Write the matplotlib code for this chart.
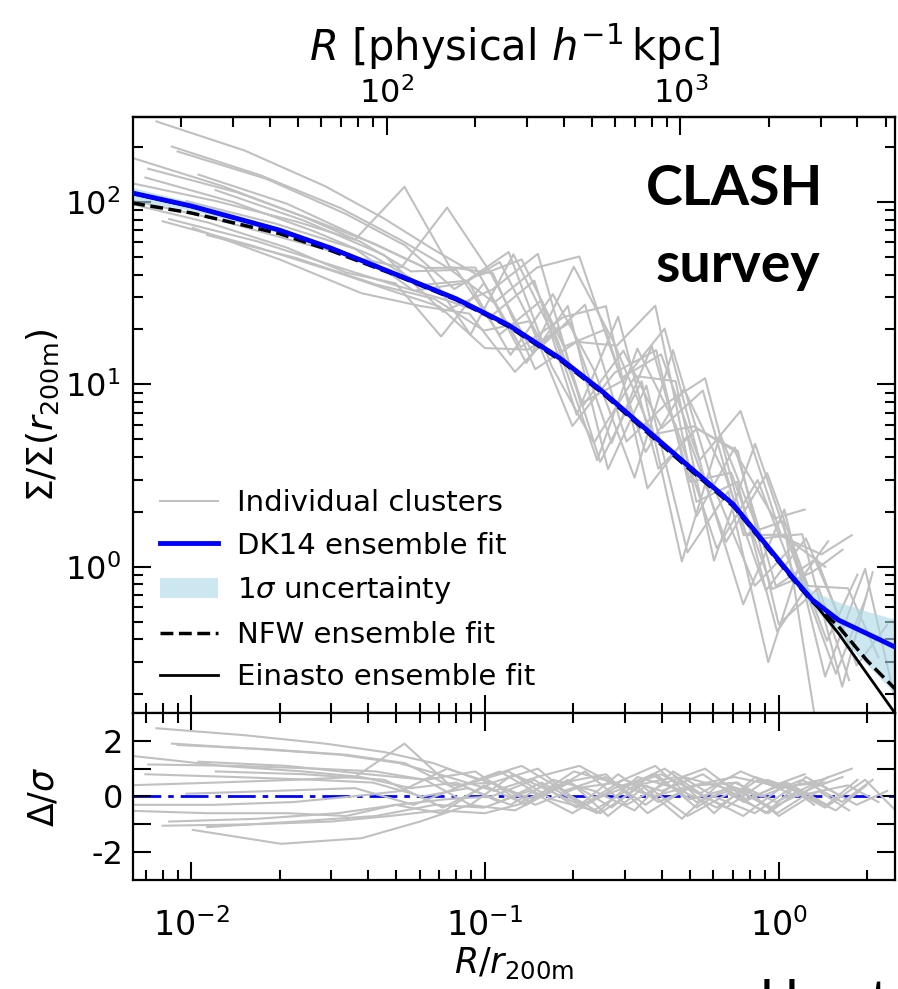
import matplotlib.pyplot as plt
import numpy as np

# ensemble fits (R/r200m, Sigma/Sigma(r200m))
x_fit = [0.0063, 0.01, 0.02, 0.03, 0.05, 0.08, 0.12, 0.18, 0.25, 0.35,
         0.5, 0.7, 0.9, 1.1, 1.3, 1.6, 2.0, 2.5]
dk14 = [112, 95, 70, 55.7, 40, 29.4, 21.2, 13.9, 9.2, 5.75,
        3.5, 2.2, 1.34, 0.90, 0.66, 0.51, 0.43, 0.362]
dk14_lo = [101, 90, 67.5, 54, 39, 28.6, 20.6, 13.5, 8.95, 5.6,
           3.4, 2.12, 1.29, 0.86, 0.61, 0.42, 0.29, 0.20]
dk14_hi = [120, 100, 72.5, 57.5, 41, 30.2, 21.8, 14.3, 9.45, 5.9,
           3.6, 2.28, 1.40, 0.95, 0.74, 0.64, 0.57, 0.515]
nfw = [98.6, 87, 67, 54, 39.5, 29.0, 20.8, 13.6, 9.0, 5.6,
       3.4, 2.15, 1.31, 0.88, 0.645, 0.47, 0.306, 0.213]
einasto = [111, 94, 70, 55.5, 40, 29.3, 21.1, 13.85, 9.15, 5.7,
           3.47, 2.18, 1.33, 0.89, 0.655, 0.43, 0.259, 0.156]

# individual clusters: common physical bins [h^-1 kpc] and each r200m
R_kpc = [16, 32, 60, 95, 140, 200, 280, 390, 540, 740, 1000, 1380, 1900, 2600, 3300]
r200m_cl = [2100, 2500, 1780, 1510, 2820, 2000, 1410, 2290,
            1660, 2630, 1900, 1320, 2240, 1580, 1860, 2690]
r200m_ens = 2160

cluster_sigma = [
    [276, 191, 122, 81.3, 55.0, 39.4, 48.4, 16.1, 20.0, 4.25, 9.42, 3.19, 0.741, 1.43, 0.578],
    [173, 122, 83.2, 60.1, 41.6, 42.4, 18.7, 28.9, 7.67, 15.3, 5.76, 9.25, 1.49, 1.78, 0.16],
    [189, 134, 85.7, 57.8, 33.3, 46.8, 16.4, 27.3, 4.86, 7.88, 10.8, 1.49, 1.50, 0.393, 0.906],
    [141, 97.7, 61.2, 43.4, 43.7, 16.0, 23.4, 26.8, 2.69, 5.23, 1.37, 3.26, 0.785, 0.762, 0.319],
    [101, 77.3, 56.0, 41.0, 35.8, 18.3, 35.9, 13.1, 26.9, 3.43, 9.84, 1.20, 2.59, 0.30, 1.00],
    [78.3, 57.8, 42.1, 32.8, 26.7, 15.8, 15.5, 21.9, 4.77, 16.2, 2.92, 3.28, 0.755, 0.933, 1.24],
    [65.8, 49.3, 35.3, 29.4, 19.7, 22.2, 5.91, 11.6, 15.4, 1.89, 4.51, 0.783, 1.11, 0.288, 0.480],
    [136, 99.5, 69.0, 50.6, 35.1, 37.0, 14.5, 31.2, 11.9, 3.08, 15.4, 2.71, 0.787, 1.33, 1.00],
    [101, 76.2, 55.3, 32.6, 35.8, 53.1, 12.6, 4.78, 11.1, 10.4, 1.08, 4.72, 1.04, 0.259, 0.685],
    [128, 101, 78.0, 62.1, 121, 43.9, 40.6, 12.1, 17.1, 16.3, 27.0, 2.27, 2.92, 0.441, 0.785],
    [80.5, 60.7, 43.9, 34.8, 29.0, 23.7, 37.0, 6.81, 23.5, 3.45, 5.72, 4.31, 0.485, 0.766, 0.239],
    [116, 78.9, 51.1, 25.0, 33.1, 51.9, 7.84, 10.5, 20.2, 2.99, 0.623, 2.06, 0.25, 0.975, 0.182],
    [152, 113, 78.2, 58.6, 43.6, 18.7, 51.6, 17.5, 3.84, 15.7, 5.95, 1.26, 2.99, 0.807, 1.38],
    [72.1, 48.0, 31.6, 26.9, 24.4, 11.7, 20.5, 3.76, 10.4, 1.07, 5.31, 1.43, 1.51, 0.22, 0.933],
    [201, 140, 92.5, 62.5, 43.3, 28.0, 43.7, 50.2, 10.8, 14.6, 3.83, 7.15, 1.47, 1.17, 1.49],
    [104, 81.1, 61.2, 50.0, 43.8, 93.1, 41.4, 15.0, 44.1, 16.9, 5.31, 5.89, 4.33, 1.84, 2.06],
]

cluster_resid = [
    [2.45, 2.2, 1.9, 1.6, 1.2, 0.6, 1.1, 0.2, 0.7, -0.3, 0.7, 0.3, -0.6, 0.7, 0.1],
    [1.45, 1.1, 0.9, 0.7, 0.3, 0.5, -0.2, 0.5, -0.3, 0.6, 0.2, 0.8, -0.2, 0.5, -0.3],
    [1.85, 1.7, 1.5, 1.2, 0.3, 0.9, 0.0, 0.9, -0.3, 0.5, 1.0, -0.1, 0.5, -0.3, 0.6],
    [1.25, 1.1, 0.8, 0.6, 0.9, -0.2, 0.5, 0.8, -0.6, 0.3, -0.4, 0.6, 0.1, 0.4, -0.2],
    [-0.5, -0.6, -0.6, -0.7, -0.3, -0.6, 0.4, -0.3, 0.6, -0.7, 0.4, -0.7, 0.1, -0.6, 0.2],
    [-1.05, -1.0, -0.9, -0.7, -0.5, -0.6, -0.2, 0.5, -0.4, 0.8, -0.1, 0.3, -0.4, 0.3, 0.7],
    [-1.1, -0.9, -0.7, -0.3, -0.4, 0.2, -0.6, 0.3, 0.8, -0.4, 0.5, -0.2, 0.5, -0.3, 0.2],
    [0.8, 0.7, 0.6, 0.5, 0.0, 0.3, -0.3, 0.6, 0.2, -0.5, 0.9, 0.0, -0.6, 0.4, 0.5],
    [0.1, 0.2, 0.3, -0.3, 0.4, 0.9, -0.1, -0.5, 0.4, 0.7, -0.6, 0.7, 0.2, -0.5, 0.4],
    [0.4, 0.5, 0.6, 0.7, 1.9, 0.4, 0.5, -0.3, 0.3, 0.5, 1.1, -0.2, 0.3, -0.6, 0.1],
    [-0.9, -0.8, -0.6, -0.3, -0.1, 0.0, 0.6, -0.4, 0.8, -0.2, 0.4, 0.5, -0.7, 0.2, -0.5],
    [0.9, 0.8, 0.6, -0.4, 0.5, 1.0, -0.3, 0.3, 1.0, 0.0, -0.7, 0.4, -0.4, 0.6, -0.5],
    [1.15, 1.1, 1.0, 0.9, 0.6, -0.3, 0.8, 0.1, -0.6, 0.7, 0.3, -0.4, 0.6, 0.0, 0.7],
    [-1.2, -1.7, -1.5, -0.9, -0.3, -0.5, 0.3, -0.6, 0.4, -0.8, 0.5, 0.0, 0.6, -0.2, 0.6],
    [1.9, 1.7, 1.5, 1.2, 0.7, 0.2, 0.7, 1.1, 0.3, 0.8, 0.1, 0.9, 0.3, 0.6, 1.0],
    [-0.3, -0.3, -0.2, 0.0, 0.2, 1.0, 0.5, -0.1, 0.9, 0.5, 0.0, 0.4, 0.7, 0.4, 0.8],
]

plt.rcParams['font.family'] = ['DejaVu Sans']
plt.rcParams['mathtext.fontset'] = 'dejavusans'
plt.rcParams['axes.linewidth'] = 1.6

gray = '#c0c0c0'
fig = plt.figure(figsize=(8.98, 9.89), dpi=100)
ax = fig.add_axes([0.1481, 0.2791, 0.8486, 0.6026])
axr = fig.add_axes([0.1481, 0.1102, 0.8486, 0.1689], sharex=ax)

R = np.array(R_kpc, dtype=float)
for sig, res, rc in zip(cluster_sigma, cluster_resid, r200m_cl):
    ax.plot(R / rc, sig, color=gray, lw=1.5, zorder=1)
    axr.plot(R / rc, res, color=gray, lw=1.5, zorder=2)

ax.fill_between(x_fit, dk14_lo, dk14_hi, color='lightblue', alpha=0.6, lw=0, zorder=2)
ax.plot(x_fit, einasto, color='k', lw=2, zorder=3)
ax.plot(x_fit, nfw, color='k', ls='--', lw=2.5, zorder=3)
ax.plot(x_fit, dk14, color='blue', lw=3.5, zorder=4)
axr.axhline(0, color='blue', lw=2, dashes=(10, 2.5, 2, 2.5), zorder=1)

# legend
handles = [
    plt.Line2D([], [], color=gray, lw=1.5),
    plt.Line2D([], [], color='blue', lw=3.5),
    plt.Rectangle((0, 0), 1, 1, color='lightblue', alpha=0.6, lw=0),
    plt.Line2D([], [], color='k', ls='--', lw=2.5),
    plt.Line2D([], [], color='k', lw=2),
]
labels = ['Individual clusters', 'DK14 ensemble fit', r'1$\sigma$ uncertainty',
          'NFW ensemble fit', 'Einasto ensemble fit']
ax.legend(handles, labels, loc='lower left', frameon=False, fontsize=21,
          handlelength=2.0, handletextpad=0.65, labelspacing=0.5,
          borderaxespad=0.3, bbox_to_anchor=(0.008, 0.002))

ax.set_xscale('log')
ax.set_yscale('log')
ax.set_xlim(0.00634, 2.49)
ax.set_ylim(0.158, 292)
axr.set_ylim(-3, 3)
axr.set_yticks([-2, -1, 0, 1, 2])
axr.set_yticklabels(['-2', '', '0', '', '2'])

for a in (ax, axr):
    a.tick_params(which='both', direction='in', right=True, width=1.5,
                  labelsize=23, pad=9)
    a.tick_params(which='major', length=13)
    a.tick_params(which='minor', length=7)
ax.tick_params(which='both', labelbottom=False, top=False)
axr.tick_params(which='both', top=True)
axr.tick_params(axis='x', labelsize=24, pad=20)
axr.tick_params(axis='y', pad=7)

sec = ax.secondary_xaxis('top', functions=(lambda x: x * r200m_ens,
                                           lambda r: r / r200m_ens))
sec.set_xticks([100, 1000])
sec.tick_params(which='both', direction='in', width=1.5, labelsize=23, pad=5)
sec.tick_params(which='major', length=13)
sec.tick_params(which='minor', length=7)
sec.set_xlabel(r'$R$ [physical $h^{-1}\,$kpc]', fontsize=30, labelpad=12)

ax.set_ylabel(r'$\Sigma/\Sigma(r_{\rm 200m})$', fontsize=26)
axr.set_ylabel(r'$\Delta/\sigma$', fontsize=25)
axr.set_xlabel(r'$R/r_{\rm 200m}$', fontsize=25, labelpad=2)
ax.yaxis.set_label_coords(-0.095, 0.5)
axr.yaxis.set_label_coords(-0.095, 0.5)

fig.text(735 / 898, 1 - 205 / 989, 'CLASH', fontsize=40, fontweight='bold',
         family='Lato', ha='center', va='baseline')
fig.text(738 / 898, 1 - 282 / 989, 'survey', fontsize=40, fontweight='bold',
         family='Lato', ha='center', va='baseline')
fig.text(760 / 898, -0.0283, 'Umetsu & Diemer (2017)', fontsize=38,
         family='Lato', va='baseline')

fig.savefig('out.png', dpi=100)
